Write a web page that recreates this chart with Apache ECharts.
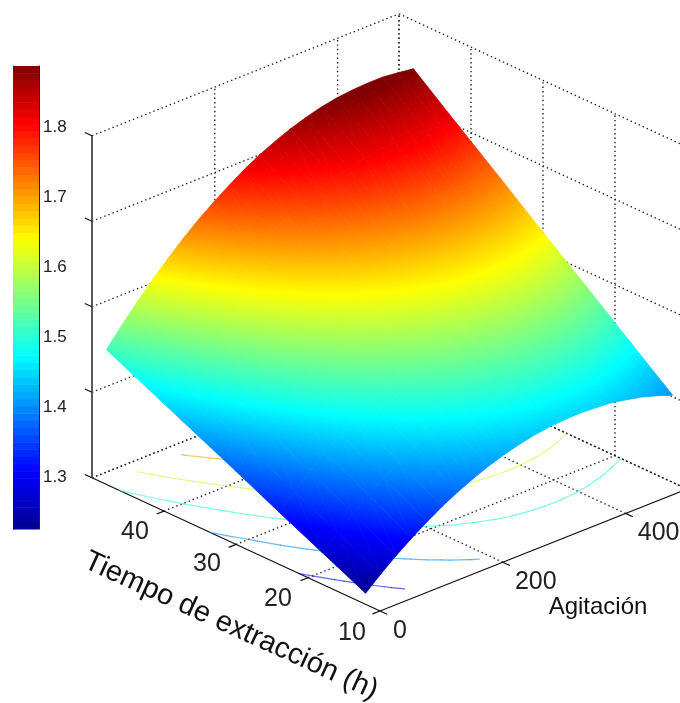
<!DOCTYPE html>
<html>
<head>
<meta charset="utf-8">
<style>html,body{margin:0;padding:0;background:#fff}#c{width:680px;height:703px}</style>
<script src="https://cdn.jsdelivr.net/npm/echarts@6/dist/echarts.min.js"></script>
</head>
<body>
<div id="c"></div>
<script>
// ---- data ----
const agitationLevels = [0, 25, 50, 75, 100, 125, 150, 175, 200, 225, 250, 275, 300, 325, 350, 375, 400, 425, 450, 475, 500];
const timeLevels = [12, 18, 24, 30, 36, 42, 48];
const valuesAt12h = [1.226, 1.257, 1.286, 1.312, 1.336, 1.358, 1.377, 1.394, 1.409, 1.421, 1.431, 1.439, 1.444, 1.447, 1.448, 1.446, 1.443, 1.436, 1.428, 1.417, 1.404];
const valuesAt18h = [1.274, 1.307, 1.338, 1.366, 1.392, 1.415, 1.436, 1.455, 1.471, 1.486, 1.497, 1.507, 1.514, 1.518, 1.520, 1.520, 1.518, 1.513, 1.506, 1.496, 1.484];
const valuesAt24h = [1.322, 1.357, 1.390, 1.420, 1.448, 1.473, 1.496, 1.516, 1.534, 1.550, 1.564, 1.574, 1.583, 1.589, 1.593, 1.594, 1.593, 1.590, 1.584, 1.575, 1.565];
const valuesAt30h = [1.371, 1.407, 1.442, 1.474, 1.504, 1.531, 1.555, 1.578, 1.597, 1.615, 1.630, 1.642, 1.652, 1.660, 1.665, 1.668, 1.668, 1.666, 1.662, 1.655, 1.645];
const valuesAt36h = [1.419, 1.458, 1.494, 1.528, 1.560, 1.589, 1.615, 1.639, 1.660, 1.680, 1.696, 1.710, 1.722, 1.731, 1.738, 1.742, 1.743, 1.743, 1.740, 1.734, 1.726];
const valuesAt42h = [1.467, 1.508, 1.546, 1.582, 1.615, 1.646, 1.674, 1.700, 1.723, 1.744, 1.762, 1.778, 1.791, 1.802, 1.810, 1.816, 1.819, 1.820, 1.818, 1.813, 1.806];
const valuesAt48h = [1.515, 1.558, 1.598, 1.636, 1.671, 1.704, 1.734, 1.761, 1.786, 1.809, 1.829, 1.846, 1.861, 1.873, 1.883, 1.890, 1.894, 1.896, 1.896, 1.892, 1.887];
const agitationTicks = [0, 200, 400];
const timeTicks = [10, 20, 30, 40];
const valueTicks = [1.2, 1.4, 1.6, 1.8, 2.0];
const colorbarTicks = [1.3, 1.4, 1.5, 1.6, 1.7, 1.8];
const contourLevels = [1.3, 1.4, 1.5, 1.6, 1.7, 1.8];
const agitationName = 'Agitación';
const timeName = 'Tiempo de extracción (h)';

// ---- view set-up ----
const surface = [valuesAt12h, valuesAt18h, valuesAt24h, valuesAt30h, valuesAt36h, valuesAt42h, valuesAt48h];
const A_MAX = 500, T_MIN = 10, T_MAX = 50, Z_MIN = 1.2, Z_MAX = 2.0;
const C_MIN = 1.226, C_MAX = 1.887;
// orthographic view: floor front corner and screen vector per unit of each variable
const view = {ox: 380, oy: 611, ax: 0.614, ay: -0.244, tx: -7.2, ty: -3.33, zy: -427.5};
function project(a, t, z) {
  return [view.ox + view.ax * a + view.tx * (t - T_MIN),
          view.oy + view.ay * a + view.ty * (t - T_MIN) + view.zy * (z - Z_MIN)];
}
const jetStops = [
  [0, '#00008f'], [0.125, '#0000ff'], [0.375, '#00ffff'],
  [0.625, '#ffff00'], [0.875, '#ff0000'], [1, '#800000']
];
function hex(c) { return [1, 3, 5].map(i => parseInt(c.substr(i, 2), 16)); }
function jet(f) {
  f = Math.max(0, Math.min(1, f));
  for (let i = 1; i < jetStops.length; i++) {
    if (f <= jetStops[i][0]) {
      const [f0, c0] = jetStops[i - 1], [f1, c1] = jetStops[i];
      const k = (f - f0) / (f1 - f0), a = hex(c0), b = hex(c1);
      return 'rgb(' + a.map((v, j) => Math.round(v + (b[j] - v) * k)).join(',') + ')';
    }
  }
  return jetStops[jetStops.length - 1][1];
}
const toF = z => (z - C_MIN) / (C_MAX - C_MIN);
const gradStops = jetStops.map(s => ({offset: s[0], color: s[1]}));

// triangles of the surface, indexes into the arrays above
const triangles = [];
for (let j = timeLevels.length - 2; j >= 0; j--) {
  for (let i = 0; i < agitationLevels.length - 1; i++) {
    triangles.push([i, j, i + 1, j, i + 1, j + 1]);
    triangles.push([i, j, i + 1, j + 1, i, j + 1]);
  }
}
function triVerts(tr) {
  return [0, 2, 4].map(k => {
    const i = tr[k], j = tr[k + 1];
    return {a: agitationLevels[i], t: timeLevels[j], z: surface[j][i]};
  });
}

// ---- walls, floor and axis lines ----
const gridLines = [];
function dotted(p, q) { gridLines.push({value: [...p, ...q, 0]}); }
function solid(p, q, w, col) { gridLines.push({value: [...p, ...q, w], col}); }
const wallT = [...timeTicks.slice(1), T_MAX];
const floorA = [...agitationTicks.slice(1), A_MAX];
valueTicks.forEach(z => {
  dotted([0, T_MAX, z], [A_MAX, T_MAX, z]);
  dotted([A_MAX, T_MAX, z], [A_MAX, T_MIN, z]);
});
floorA.forEach(a => {
  dotted([a, T_MAX, Z_MIN], [a, T_MAX, Z_MAX]);
  dotted([a, T_MIN, Z_MIN], [a, T_MAX, Z_MIN]);
});
wallT.forEach(t => {
  dotted([A_MAX, t, Z_MIN], [A_MAX, t, Z_MAX]);
  dotted([0, t, Z_MIN], [A_MAX, t, Z_MIN]);
});
solid([0, T_MIN, Z_MIN], [0, T_MAX, Z_MIN], 1.2, '#111');
solid([0, T_MIN, Z_MIN], [A_MAX, T_MIN, Z_MIN], 1.2, '#111');
solid([0, T_MAX, Z_MIN], [0, T_MAX, Z_MAX], 2, '#5a5a5a');
const TICK_A = -12, TICK_T = -1;
agitationTicks.forEach(a => solid([a, T_MIN, Z_MIN], [a, T_MIN + TICK_T, Z_MIN], 1.2, '#111'));
timeTicks.forEach(t => solid([0, t, Z_MIN], [TICK_A, t, Z_MIN], 1.2, '#111'));
valueTicks.forEach(z => solid([0, T_MAX, z], [0, T_MAX + 1, z], 1.2, '#111'));

// ---- text placed next to the ticks (offset in pixels) ----
const FONT = '"Liberation Sans", Arial, sans-serif';
const textItems = [];
const agitationOffsets = [[20, 20], [33, 20], [33, 20]];
agitationTicks.forEach((a, i) => textItems.push({value: [a, T_MIN, Z_MIN, agitationOffsets[i][0], agitationOffsets[i][1]], text: String(a), size: 25}));
const timeOffsets = [[-28, 22], [-30, 21], [-29, 20], [-29, 21]];
timeTicks.forEach((t, i) => textItems.push({value: [0, t, Z_MIN, timeOffsets[i][0], timeOffsets[i][1]], text: String(t), size: 25}));

const barLevels = [];
for (let k = 0; k < 64; k++) barLevels.push(k);

const chart = echarts.init(document.getElementById('c'), null, {renderer: 'canvas'});
chart.setOption({
  animation: false,
  backgroundColor: '#fff',
  grid: [
    {id: 'scene', left: 0, top: 0, width: 680, height: 703},
    {id: 'bar', left: 13, top: 66, width: 26, height: 463}
  ],
  xAxis: [
    {gridIndex: 0, type: 'value', min: 0, max: 680, show: false},
    {gridIndex: 1, type: 'value', min: 0, max: 1, show: false}
  ],
  yAxis: [
    {gridIndex: 0, type: 'value', min: 0, max: 703, inverse: true, show: false},
    {gridIndex: 1, type: 'value', min: C_MIN, max: C_MAX, position: 'right', splitLine: {show: false},
      axisLine: {show: true, onZero: false, lineStyle: {color: '#222', width: 1}},
      axisTick: {show: true, inside: true, length: 6, customValues: colorbarTicks, lineStyle: {color: '#222'}},
      axisLabel: {show: true, margin: 4, fontSize: 17, color: '#222', fontFamily: FONT,
        customValues: colorbarTicks, formatter: v => v.toFixed(1)}},
    {gridIndex: 1, type: 'value', min: C_MIN, max: C_MAX, position: 'left', splitLine: {show: false},
      axisLine: {show: true, onZero: false, lineStyle: {color: '#222', width: 1}},
      axisTick: {show: true, inside: true, length: 5, customValues: colorbarTicks, lineStyle: {color: '#222'}},
      axisLabel: {show: false}}
  ],
  series: [
    { // colorbar, 64 steps like the reference
      type: 'custom', xAxisIndex: 1, yAxisIndex: 1, silent: true, z: 1, clip: false,
      data: barLevels.map(k => [k]),
      renderItem(params, api) {
        const k = api.value(0);
        const lo = C_MIN + (C_MAX - C_MIN) * k / 64, hi = C_MIN + (C_MAX - C_MIN) * (k + 1) / 64;
        const p = api.coord([0, hi]), q = api.coord([1, lo]);
        return {type: 'rect', shape: {x: p[0], y: p[1], width: q[0] - p[0], height: q[1] - p[1] + 0.5},
          style: {fill: jet((k + 0.5) / 64)}};
      }
    },
    { // walls, floor, axis lines and ticks
      type: 'custom', xAxisIndex: 0, yAxisIndex: 0, silent: true, z: 2,
      data: gridLines,
      renderItem(params, api) {
        const p = project(api.value(0), api.value(1), api.value(2));
        const q = project(api.value(3), api.value(4), api.value(5));
        const w = api.value(6);
        const a = api.coord(p), b = api.coord(q);
        const item = gridLines[params.dataIndex];
        return {type: 'line', shape: {x1: a[0], y1: a[1], x2: b[0], y2: b[1]},
          style: w ? {stroke: item.col, lineWidth: w} : {stroke: '#222', lineWidth: 1.4, lineDash: [1.4, 3]}};
      }
    },
    { // contours on the floor
      type: 'custom', xAxisIndex: 0, yAxisIndex: 0, silent: true, z: 3,
      data: contourLevels.map(l => [l]),
      renderItem(params, api) {
        const level = api.value(0), children = [];
        triangles.forEach(tr => {
          const v = triVerts(tr), pts = [];
          for (let k = 0; k < 3; k++) {
            const m = v[k], n = v[(k + 1) % 3];
            if ((m.z - level) * (n.z - level) < 0) {
              const s = (level - m.z) / (n.z - m.z);
              pts.push(api.coord(project(m.a + (n.a - m.a) * s, m.t + (n.t - m.t) * s, Z_MIN)));
            }
          }
          if (pts.length === 2) {
            children.push({type: 'line', shape: {x1: pts[0][0], y1: pts[0][1], x2: pts[1][0], y2: pts[1][1]},
              style: {stroke: jet(toF(level)), lineWidth: 1.2, opacity: 0.6, lineCap: 'round'}});
          }
        });
        return {type: 'group', children};
      }
    },
    { // the surface: each triangle gets a jet gradient along its own steepest direction
      type: 'custom', xAxisIndex: 0, yAxisIndex: 0, silent: true, z: 4,
      data: triangles.map(tr => tr),
      renderItem(params, api) {
        const v = triVerts(triangles[params.dataIndex]);
        const P = v.map(o => api.coord(project(o.a, o.t, o.z)));
        const F = v.map(o => toF(o.z));
        const ux = P[1][0] - P[0][0], uy = P[1][1] - P[0][1];
        const wx = P[2][0] - P[0][0], wy = P[2][1] - P[0][1];
        const det = ux * wy - uy * wx;
        const df1 = F[1] - F[0], df2 = F[2] - F[0];
        const gx = (df1 * wy - df2 * uy) / det, gy = (df2 * ux - df1 * wx) / det;
        const g2 = gx * gx + gy * gy;
        let fill;
        if (g2 < 1e-12) {
          fill = jet((F[0] + F[1] + F[2]) / 3);
        } else {
          const x0 = P[0][0] + (0 - F[0]) * gx / g2, y0 = P[0][1] + (0 - F[0]) * gy / g2;
          const x1 = P[0][0] + (1 - F[0]) * gx / g2, y1 = P[0][1] + (1 - F[0]) * gy / g2;
          fill = new echarts.graphic.LinearGradient(x0, y0, x1, y1, gradStops, true);
        }
        return {type: 'polygon', shape: {points: P},
          style: {fill, stroke: fill, lineWidth: 0.8, lineJoin: 'round'}};
      }
    },
    { // tick labels
      type: 'custom', xAxisIndex: 0, yAxisIndex: 0, silent: true, z: 5,
      data: textItems,
      renderItem(params, api) {
        const item = textItems[params.dataIndex];
        const c = api.coord(project(api.value(0), api.value(1), api.value(2)));
        return {type: 'text', x: c[0] + api.value(3), y: c[1] + api.value(4),
          style: {text: item.text, fill: '#222', font: item.size + 'px ' + FONT, align: 'center', verticalAlign: 'middle'}};
      }
    },
    { // axis names
      type: 'custom', xAxisIndex: 0, yAxisIndex: 0, silent: true, z: 5,
      data: [[598, 607, 0, 24], [231, 626, 24.5, 29]],
      renderItem(params, api) {
        const c = api.coord([api.value(0), api.value(1)]);
        return {type: 'text', x: c[0], y: c[1], rotation: -api.value(2) * Math.PI / 180,
          style: {text: params.dataIndex === 0 ? agitationName : timeName, fill: '#111',
            font: api.value(3) + 'px ' + FONT, align: 'center', verticalAlign: 'middle'}};
      }
    }
  ]
});
</script>
</body>
</html>
